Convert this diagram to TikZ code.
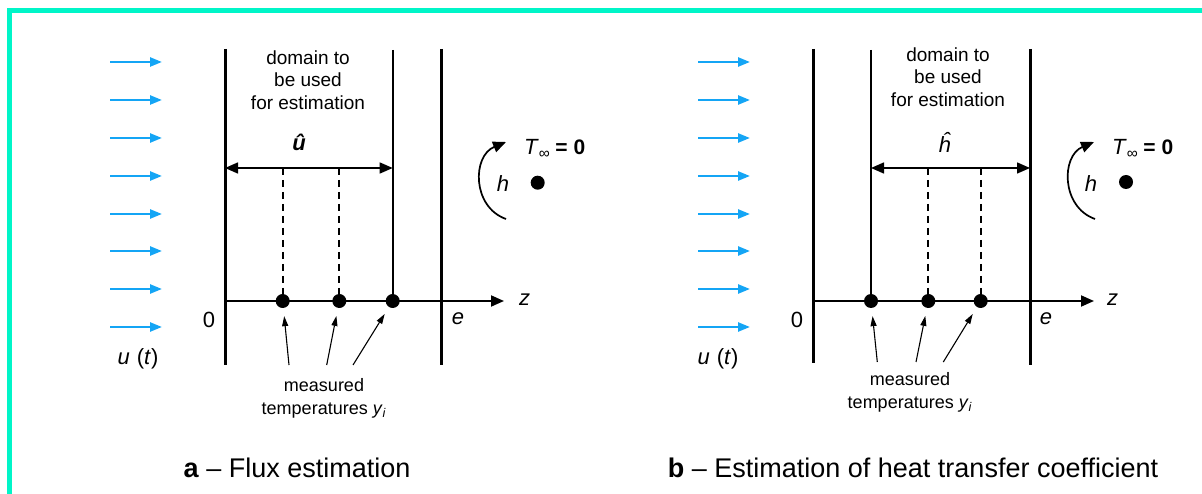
\documentclass[tikz,border=0pt]{standalone}
\usepackage{fontspec}
\setmainfont{Liberation Sans}
\definecolor{fluxblue}{RGB}{20,165,245}
\definecolor{frameteal}{RGB}{0,245,200}
\usetikzlibrary{arrows.meta,positioning,calc}

\tikzset{
  wall/.style={line width=3pt},
  edgeline/.style={line width=2pt},
  axisline/.style={line width=1.8pt, -{Triangle[length=13pt,width=11pt]}},
  span/.style={line width=1.5pt, {Triangle[length=13pt,width=11pt]}-{Triangle[length=13pt,width=11pt]}},
  probeline/.style={dashed, dash pattern=on 7pt off 5pt, line width=2pt},
  sensor/.style={circle, fill=black, inner sep=0pt, minimum size=14pt},
  fluxarrow/.style={fluxblue, line width=2.4pt, -{Triangle[length=12pt,width=9pt]}},
  pointer/.style={line width=1.1pt, -{Triangle[length=10pt,width=6pt]}, shorten >=8pt},
  turn/.style={line width=1.7pt, -{Triangle[length=13pt,width=11pt]}},
  lbl/.style={font=\fontsize{19}{22.5}\selectfont, align=center, inner sep=0pt},
  sym/.style={font=\fontsize{22}{26}\selectfont, inner sep=0pt},
  caption/.style={font=\fontsize{27}{31}\selectfont, inner sep=0pt}
}

\begin{document}
\begin{tikzpicture}[x=1pt, y=-1pt, font=\fontsize{19}{22.5}\selectfont]
    \useasboundingbox (0,0) rectangle (1202,494);
    % Frame
    \draw[frameteal, line width=5pt] (1210,11) -- (9,11) -- (9,500);

    % ---------------- Panel a ----------------
    % Incoming flux
    \foreach \y in {62,100,138,176,214,251,289,327}{
      \draw[fluxarrow] (110,\y) -- (162,\y);
    }
    \node[sym] (aut) at (138,359) {\textit{u}\hspace{7pt}(\textit{t})};
    % Walls and axis
    \coordinate (aO) at (225,301);
    \coordinate (aZ) at (504,301);
    \draw[wall] (225,49) -- (225,365);
    \draw[wall] (441,49) -- (441,365);
    \draw[axisline] (aO) -- (aZ);
    \node[sym, anchor=west] (az) at (519,300) {\textit{z}};
    \node[sym] (a0) at (209,320) {0};
    \node[sym] (ae) at (458,319) {\textit{e}};
    % Sensors
    \node[sensor] (a1) at (282.7,301) {};
    \node[sensor] (a2) at (339.3,301) {};
    \node[sensor] (a3) at (392.7,301) {};
    \draw[edgeline] (392.7,50) -- (a3);
    \draw[probeline] (282.7,168) -- (a1);
    \draw[probeline] (339.3,168) -- (a2);
    % Estimation domain
    \coordinate (aL) at (225,168);
    \coordinate (aR) at (392.7,168);
    \draw[span] (aL) -- (aR);
    \node[lbl] (adom) at (308,80) {domain to\\be used\\for estimation};
    \node[sym] (ahat) at (299,142) {\textbf{\textit{û}}};
    % Measured temperatures
    \node[lbl, font=\fontsize{18}{23}\selectfont] (ameas) at (324,398)
      {measured\\temperatures \textit{y}\textsubscript{\textit{i}}};
    \coordinate (ap1) at (289,365);
    \coordinate (ap2) at (326.7,365);
    \coordinate (ap3) at (353,365);
    \draw[pointer] (ap1) -- (a1);
    \draw[pointer] (ap2) -- (a2);
    \draw[pointer] (ap3) -- (a3);
    % Exchange with ambient
    \draw[turn] (506,219) .. controls (472,207) and (472,156) .. (506,142);
    \node[sym] (ah) at (503,184) {\textit{h}};
    \node[sym, anchor=base west] (aT) at (524,155)
      {\textit{T}\textsubscript{∞}\hspace{5pt}{\fontsize{21}{24}\selectfont\textbf{= 0}}};
    \node[sensor] (aamb) at (537.7,182.7) {};
    \node[caption] (acap) at (297,468) {\textbf{a} – Flux estimation};

    % ---------------- Panel b ----------------
    % Incoming flux
    \foreach \y in {62,100,138,176,214,251,289,327}{
      \draw[fluxarrow] (698,\y) -- (750,\y);
    }
    \node[sym] (but) at (718,359) {\textit{u}\hspace{7pt}(\textit{t})};
    % Walls and axis
    \coordinate (bO) at (813,301);
    \coordinate (bZ) at (1094,301);
    \draw[wall] (813,49) -- (813,363);
    \draw[wall] (1030,49) -- (1030,365);
    \draw[axisline] (bO) -- (bZ);
    \node[sym, anchor=west] (bz) at (1107,300) {\textit{z}};
    \node[sym] (b0) at (797,320) {0};
    \node[sym] (be) at (1046,319) {\textit{e}};
    % Sensors
    \node[sensor] (b1) at (871,301) {};
    \node[sensor] (b2) at (928.3,301) {};
    \node[sensor] (b3) at (980.7,301) {};
    \draw[edgeline] (871,50) -- (b1);
    \draw[probeline] (928.3,168) -- (b2);
    \draw[probeline] (980.7,168) -- (b3);
    % Estimation domain
    \coordinate (bL) at (871,168);
    \coordinate (bR) at (1030,168);
    \draw[span] (bL) -- (bR);
    \node[lbl] (bdom) at (948,77) {domain to\\be used\\for estimation};
    \node[sym] (bhat) at (945,142) {\textit{ĥ}};
    % Measured temperatures
    \node[lbl, font=\fontsize{18}{23}\selectfont] (bmeas) at (910,392)
      {measured\\temperatures \textit{y}\textsubscript{\textit{i}}};
    \coordinate (bp1) at (877.3,362);
    \coordinate (bp2) at (916,362);
    \coordinate (bp3) at (943.3,362);
    \draw[pointer] (bp1) -- (b1);
    \draw[pointer] (bp2) -- (b2);
    \draw[pointer] (bp3) -- (b3);
    % Exchange with ambient
    \draw[turn] (1095,219) .. controls (1061,207) and (1061,156) .. (1094,142);
    \node[sym] (bh) at (1091,184) {\textit{h}};
    \node[sym, anchor=base west] (bT) at (1112,155)
      {\textit{T}\textsubscript{∞}\hspace{5pt}{\fontsize{21}{24}\selectfont\textbf{= 0}}};
    \node[sensor] (bamb) at (1126,182) {};
    \node[caption] (bcap) at (913,468) {\textbf{b} – Estimation of heat transfer coefficient};
\end{tikzpicture}
\end{document}
